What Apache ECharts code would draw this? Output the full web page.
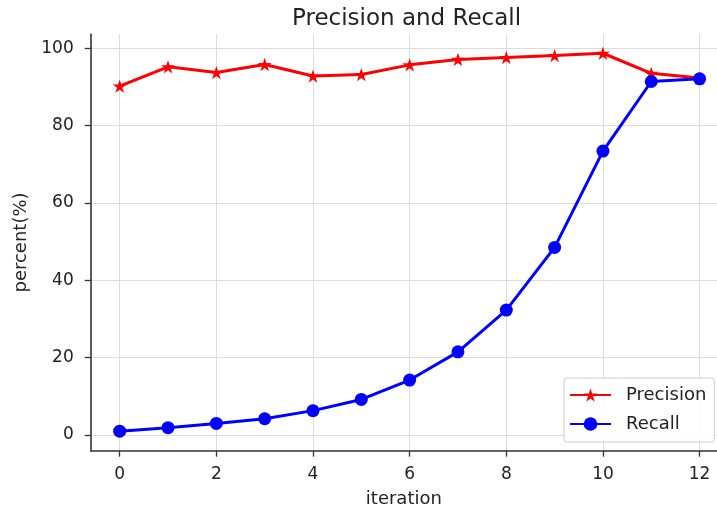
<!DOCTYPE html>
<html>
<head>
<meta charset="utf-8">
<script src="https://cdn.jsdelivr.net/npm/echarts@6/dist/echarts.min.js"></script>
<style>
  html, body { margin: 0; padding: 0; background: #ffffff; }
  #chart { width: 717px; height: 509px; }
</style>
</head>
<body>
<div id="chart"></div>
<script>
// Per-iteration scores (percent)
const iterations = [0, 1, 2, 3, 4, 5, 6, 7, 8, 9, 10, 11, 12];
const precision = [90.2, 95.2, 93.7, 95.8, 92.8, 93.2, 95.7, 97.1, 97.6, 98.1, 98.7, 93.5, 92.3];
const recall = [1.0, 1.9, 3.0, 4.2, 6.3, 9.2, 14.2, 21.5, 32.3, 48.5, 73.4, 91.4, 92.1];

// Tick positions
const xTicks = [0, 2, 4, 6, 8, 10, 12];
const yTicks = [0, 20, 40, 60, 80, 100];

const FONT = 'DejaVu Sans';
const TEXT = '#222222';
const STAR = 'path://M100,0 L122.45,69.1 L195.1,69.1 L136.3,111.8 L158.8,180.9 L100,138.2 L41.2,180.9 L63.7,111.8 L4.9,69.1 L77.55,69.1 Z';

const pairs = (ys) => iterations.map((x, i) => [x, ys[i]]);

const axisCommon = {
  type: 'value',
  nameLocation: 'middle',
  nameTextStyle: { fontFamily: FONT, fontSize: 18, color: TEXT },
  axisLine: { show: true, onZero: false, lineStyle: { color: '#333333', width: 1.6 } },
  axisTick: { show: true, inside: false, length: 6, lineStyle: { color: '#333333', width: 1.3 } },
  splitLine: { show: true, lineStyle: { color: '#dcdcdc', width: 1 } }
};

const chart = echarts.init(document.getElementById('chart'), null, { renderer: 'canvas' });

chart.setOption({
  animation: false,
  backgroundColor: '#ffffff',
  title: {
    text: 'Precision and Recall',
    left: 292,
    top: 8,
    padding: 0,
    textStyle: { fontFamily: FONT, fontSize: 23, fontWeight: 'normal', color: TEXT }
  },
  grid: { left: 90.7, right: 0, top: 34.3, bottom: 58.3, containLabel: false, outerBoundsMode: 'none' },
  xAxis: Object.assign({}, axisCommon, {
    min: -0.6,
    max: 12.36,
    name: 'iteration',
    nameGap: 40,
    axisTick: Object.assign({}, axisCommon.axisTick, { customValues: xTicks }),
    axisLabel: { customValues: xTicks, margin: 15, fontFamily: FONT, fontSize: 17, color: TEXT }
  }),
  yAxis: Object.assign({}, axisCommon, {
    min: -4.06,
    max: 103.6,
    name: 'percent(%)',
    nameGap: 48,
    axisTick: Object.assign({}, axisCommon.axisTick, { customValues: yTicks }),
    axisLabel: { customValues: yTicks, margin: 17, fontFamily: FONT, fontSize: 17, color: TEXT }
  }),
  legend: {
    orient: 'vertical',
    left: 564,
    top: 378,
    padding: [8, 8, 9, 5],
    itemWidth: 41,
    itemHeight: 17,
    itemGap: 11,
    backgroundColor: 'rgba(255,255,255,0.85)',
    borderColor: '#cccccc',
    borderWidth: 1,
    borderRadius: 3,
    textStyle: { fontFamily: FONT, fontSize: 18, color: TEXT, padding: [0, 0, 0, 10] },
    data: ['Precision', 'Recall']
  },
  series: [
    {
      name: 'Precision',
      type: 'line',
      data: pairs(precision),
      symbol: STAR,
      symbolSize: 14,
      symbolKeepAspect: true,
      lineStyle: { color: '#ff0000', width: 3 },
      itemStyle: { color: '#ff0000' },
      z: 3
    },
    {
      name: 'Recall',
      type: 'line',
      data: pairs(recall),
      symbol: 'circle',
      symbolSize: 13,
      lineStyle: { color: '#0000ff', width: 3 },
      itemStyle: { color: '#0000ff' },
      z: 4
    }
  ]
});
</script>
</body>
</html>
